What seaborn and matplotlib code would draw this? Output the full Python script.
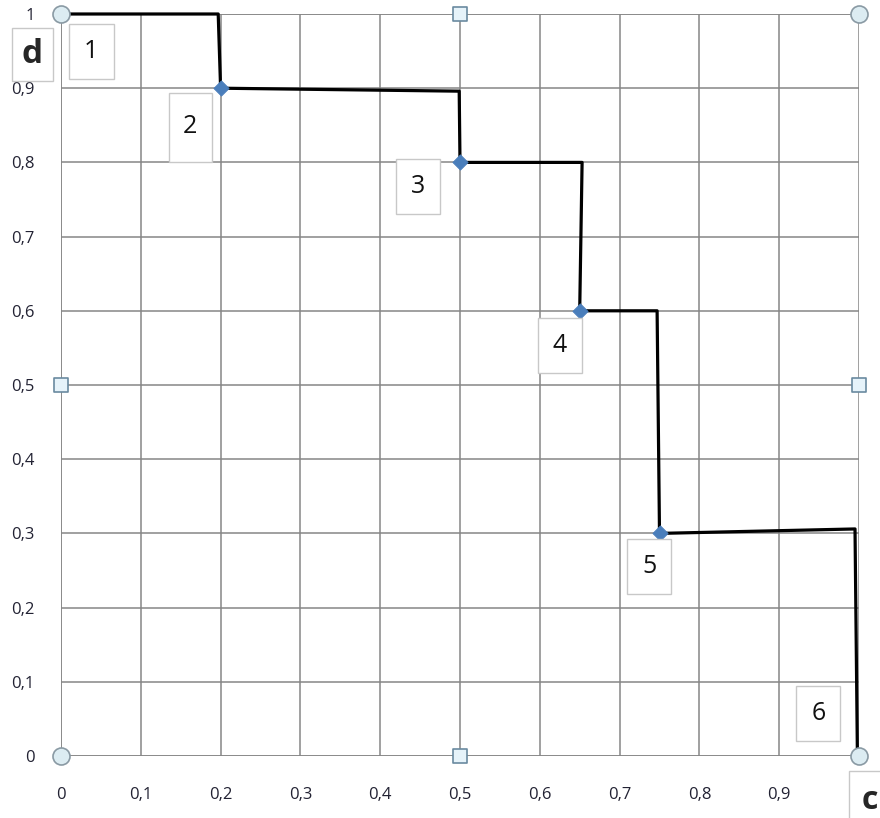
import numpy as np
import pandas as pd
import matplotlib
matplotlib.use("Agg")
import matplotlib.pyplot as plt
from matplotlib.patches import Rectangle
import seaborn as sns

# step path (c, d) as drawn
step_c = [0, 0.197, 0.2, 0.499, 0.5, 0.653, 0.65, 0.747, 0.75, 0.995, 0.998]
step_d = [1, 1, 0.9, 0.896, 0.8, 0.8, 0.6, 0.6, 0.3, 0.306, 0]
# data points (diamonds)
pts_c = [0.2, 0.5, 0.65, 0.75]
pts_d = [0.9, 0.8, 0.6, 0.3]
# numbered boxes
box_labels = ["1", "2", "3", "4", "5", "6"]
box_c = [0.038, 0.162, 0.447, 0.625, 0.737, 0.949]
box_d = [0.950, 0.848, 0.767, 0.553, 0.255, 0.057]
tick_vals = [0, 0.1, 0.2, 0.3, 0.4, 0.5, 0.6, 0.7, 0.8, 0.9]
tick_labels = ["0", "0,1", "0,2", "0,3", "0,4", "0,5", "0,6", "0,7", "0,8", "0,9"]

sns.set_style("white")
plt.rcParams['font.family'] = ['Open Sans', 'DejaVu Sans']

fig = plt.figure(figsize=(8.8, 8.18), dpi=100)
ax = fig.add_axes([61/880, 1 - 756/818, 798/880, 742/818])

grid_col = "#868686"
ax.set_xlim(0, 1)
ax.set_ylim(0, 1)
ax.set_xticks(tick_vals)
ax.set_xticklabels(tick_labels, fontsize=12, color="#222233")
ax.set_yticks(tick_vals + [1])
ax.set_yticklabels(tick_labels + ["1"], fontsize=12, color="#222233")
ax.tick_params(axis="x", length=6, color=grid_col, pad=16)
ax.tick_params(axis="y", length=6, color=grid_col, pad=13)
ax.grid(True, color=grid_col, linewidth=1.1)
for s in ax.spines.values():
    s.set_visible(False)
ax.axvline(1, color=grid_col, linewidth=1.1)
ax.axvline(0, color=grid_col, linewidth=1.1)
ax.axhline(0, color=grid_col, linewidth=1.1)
ax.axhline(1, color=grid_col, linewidth=1.1)

step_df = pd.DataFrame({"c": step_c, "d": step_d})
sns.lineplot(data=step_df, x="c", y="d", sort=False, color="black", linewidth=2.3,
             ax=ax, clip_on=False, zorder=4)
sns.scatterplot(x=pts_c, y=pts_d, marker="D", s=60, color="#4a7ebb",
                edgecolor="#4a7ebb", ax=ax, zorder=5, clip_on=False)

# selection handles
ax.scatter([0, 1, 0, 1], [0, 0, 1, 1], s=150, marker="o", facecolor="#dcecf2",
           edgecolor="#8a9aa4", linewidth=1.2, zorder=6, clip_on=False)
ax.scatter([0.5, 0.5, 0, 1], [0, 1, 0.5, 0.5], s=100, marker="s", facecolor="#e6f3fa",
           edgecolor="#6a8aa0", linewidth=1.2, zorder=6, clip_on=False)

box_style = dict(boxstyle="square,pad=0.6", facecolor="white", edgecolor="#c8c8c8", linewidth=1)
for lab, bc, bd in zip(box_labels, box_c, box_d):
    if lab == "2":
        # this label box is narrow and tall
        ax.add_patch(Rectangle((bc - 0.027, bd - 0.047), 0.054, 0.092, facecolor="white",
                               edgecolor="#c8c8c8", linewidth=1, zorder=6.5))
        ax.text(bc, bd, lab, fontsize=18, ha="center", va="center", color="#111111", zorder=7)
    else:
        ax.text(bc, bd, lab, fontsize=18, ha="center", va="center", color="#111111",
                bbox=box_style, zorder=7)

ax.text(-0.036, 0.946, "d", fontsize=24, fontweight="bold", ha="center", va="center",
        bbox=dict(boxstyle="square,pad=0.3", facecolor="white", edgecolor="#c8c8c8"),
        zorder=7, clip_on=False)
ax.text(1.0135, -0.06, "c", fontsize=23, fontweight="bold", ha="center", va="center",
        bbox=dict(boxstyle="square,pad=0.4", facecolor="white", edgecolor="#c8c8c8"),
        zorder=7, clip_on=False)

ax.set_xlabel("")
ax.set_ylabel("")
fig.savefig("out.png", dpi=100)
